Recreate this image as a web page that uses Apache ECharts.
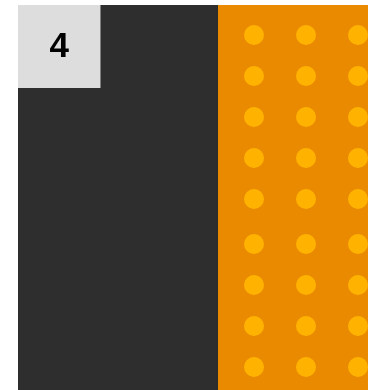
<!DOCTYPE html>
<html>
<head>
<meta charset="utf-8">
<style>
  html, body { margin: 0; padding: 0; background: #ffffff; }
  #chart { width: 368px; height: 390px; }
</style>
<script src="https://cdn.jsdelivr.net/npm/echarts@6/dist/echarts.min.js"></script>
</head>
<body>
<div id="chart"></div>
<script>
// one row, two stacked pieces
const categories = ['row']
const darkValues = [4]
const orangeValues = [3]
const axisMax = 7

const chart = echarts.init(document.getElementById('chart'))

const option = {
  animation: false,
  grid: {
    left: 18,
    right: 0,
    top: 5,
    bottom: 0,
  },
  xAxis: {
    type: 'value',
    min: 0,
    max: axisMax,
    show: false,
  },
  yAxis: {
    type: 'category',
    data: categories,
    show: false,
  },
  series: [
    {
      name: 'dark',
      type: 'bar',
      stack: 'total',
      barWidth: '100%',
      data: darkValues,
      itemStyle: {
        color: '#2e2e2e',
      },
      label: {
        show: true,
        position: 'insideTopLeft',
        distance: 0,
        formatter: '{c}',
        color: '#000000',
        fontFamily: 'Liberation Sans',
        fontSize: 35,
        fontWeight: 'bold',
        lineHeight: 35,
        backgroundColor: '#dddddd',
        padding: [25, 31.5, 23, 31.5],
      },
    },
    {
      name: 'orange',
      type: 'bar',
      stack: 'total',
      barWidth: '100%',
      data: orangeValues,
      itemStyle: {
        color: '#ea8a00',
        // dot grid drawn as a decal over the orange piece
        decal: {
          symbol: 'circle',
          symbolSize: 1,
          color: '#ffb300',
          dashArrayX: [[20, 224, 20, 32, 20, 32, 20, 144]],
          dashArrayY: [0, 25, 20, 21, 20, 21, 20, 21, 20, 21, 20, 25, 20, 21, 20, 21, 20, 21, 20, 21, 20, 94],
        },
      },
    },
  ],
}

chart.setOption(option)
</script>
</body>
</html>
